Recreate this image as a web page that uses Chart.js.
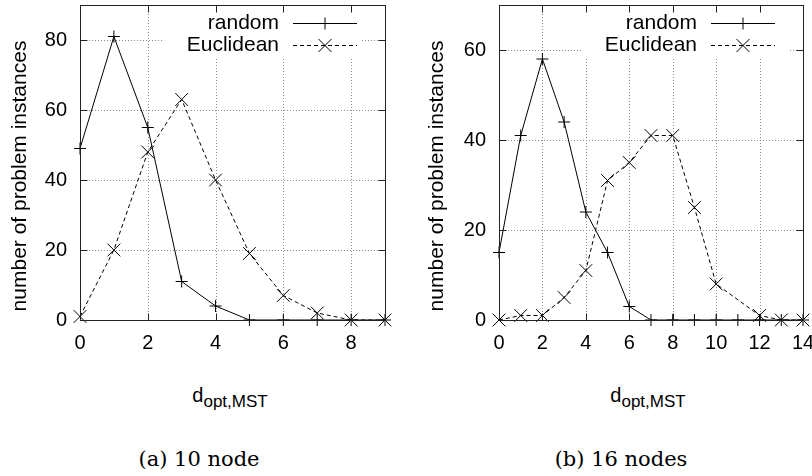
<!DOCTYPE html>
<html>
<head>
<meta charset="utf-8">
<script src="https://cdn.jsdelivr.net/npm/chart.js@4.4.0/dist/chart.umd.min.js"></script>
<style>
    body { margin: 0; background: #fff; width: 812px; height: 476px; overflow: hidden; position: relative;
           font-family: "Liberation Sans", Arial, sans-serif; color: #000; }
    .panel { position: absolute; top: 0; width: 406px; height: 360px; }
    .xtitle { position: absolute; width: 300px; text-align: center; font-size: 20px; line-height: 20px; top: 385px; }
    .xtitle sub { font-size: 17px; vertical-align: -5px; line-height: 0; }
    .caption { position: absolute; width: 300px; text-align: center; font-family: "DejaVu Serif", serif;
               font-size: 21px; line-height: 21px; top: 449px; }
</style>
</head>
<body>
<div class="panel" style="left:0"><canvas id="chart-a" width="406" height="360"></canvas></div>
<div class="panel" style="left:406px"><canvas id="chart-b" width="406" height="360"></canvas></div>
<div class="xtitle" style="left:80px">d<sub>opt,MST</sub></div>
<div class="xtitle" style="left:498px">d<sub>opt,MST</sub></div>
<div class="caption" style="left:49px">(a) 10 node</div>
<div class="caption" style="left:471px">(b) 16 nodes</div>
<script>
const seriesNames = ['random', 'Euclidean'];
const yTitle = 'number of problem instances';

// (a) 10 nodes
const xLeft = [0, 1, 2, 3, 4, 5, 6, 7, 8, 9];
const randomLeft = [49, 81, 55, 11, 4, 0, 0, 0, 0, 0];
const euclideanLeft = [1, 20, 48, 63, 40, 19, 7, 2, 0, 0];
const xTicksLeft = [0, 2, 4, 6, 8];
const yTicksLeft = [0, 20, 40, 60, 80];

// (b) 16 nodes
const xRight = [0, 1, 2, 3, 4, 5, 6, 7, 8, 9, 10, 11, 12, 13, 14];
const randomRight = [15, 41, 58, 44, 24, 15, 3, 0, 0, 0, 0, 0, 0, 0, 0];
const euclideanRight = [0, 1, 1, 5, 11, 31, 35, 41, 41, 25, 8, null, 1, 0, 0];
const xTicksRight = [0, 2, 4, 6, 8, 10, 12, 14];
const yTicksRight = [0, 20, 40, 60];

const tickFont = { family: '"Liberation Sans", Arial, sans-serif', size: 20 };

function toPoints(xs, ys) {
    return xs.map((x, i) => ({ x: x, y: ys[i] }));
}

const gnuplotFrame = {
    id: 'gnuplotFrame',
    beforeDatasetsDraw(chart, args, opts) {
        const ctx = chart.ctx;
        const a = chart.chartArea;
        const xs = chart.scales.x, ys = chart.scales.y;
        ctx.save();
        ctx.strokeStyle = '#8a8a8a';
        ctx.lineWidth = 1;
        ctx.setLineDash([1, 2]);
        ctx.beginPath();
        opts.xTicks.forEach(v => {
            const px = Math.round(xs.getPixelForValue(v)) + 0.5;
            ctx.moveTo(px, a.top); ctx.lineTo(px, a.bottom);
        });
        opts.yTicks.forEach(v => {
            const py = Math.round(ys.getPixelForValue(v)) + 0.5;
            ctx.moveTo(a.left, py); ctx.lineTo(a.right, py);
        });
        ctx.stroke();
        // key area keeps the grid out
        ctx.font = '21px "Liberation Sans", Arial, sans-serif';
        const textRight = a.right - 106;
        const w = Math.max(...seriesNames.map(s => ctx.measureText(s).width));
        ctx.fillStyle = '#fff';
        ctx.fillRect(textRight - w - 23, a.top + 1, w + 23 + 106 - opts.boxRight, 51);
        ctx.restore();
    },
    afterDatasetsDraw(chart, args, opts) {
        const ctx = chart.ctx;
        const a = chart.chartArea;
        const xs = chart.scales.x, ys = chart.scales.y;
        ctx.save();
        ctx.strokeStyle = '#222';
        ctx.lineWidth = 1;
        ctx.setLineDash([]);
        const l = Math.round(a.left) + 0.5, r = Math.round(a.right) + 0.5;
        const t = Math.round(a.top) + 0.5, b = Math.round(a.bottom) + 0.5;
        ctx.strokeRect(l, t, r - l, b - t);
        ctx.beginPath();
        opts.xTicks.forEach(v => {
            const px = Math.round(xs.getPixelForValue(v)) + 0.5;
            ctx.moveTo(px, b); ctx.lineTo(px, b - 7);
            ctx.moveTo(px, t); ctx.lineTo(px, t + 7);
        });
        opts.yTicks.forEach(v => {
            const py = Math.round(ys.getPixelForValue(v)) + 0.5;
            ctx.moveTo(l, py); ctx.lineTo(l + 7, py);
            ctx.moveTo(r, py); ctx.lineTo(r - 7, py);
        });
        ctx.stroke();

        // key
        ctx.fillStyle = '#000';
        ctx.font = '21px "Liberation Sans", Arial, sans-serif';
        ctx.textAlign = 'right';
        ctx.textBaseline = 'middle';
        const rows = [a.top + 18, a.top + 40];
        chart.data.datasets.forEach((ds, i) => {
            const y = rows[i] + 0.5;
            ctx.fillText(ds.label, a.right - 106, rows[i]);
            const x0 = a.right - 92, x1 = a.right - 28, xm = (x0 + x1) / 2;
            ctx.strokeStyle = '#000';
            ctx.setLineDash(ds.borderDash || []);
            ctx.beginPath();
            ctx.moveTo(x0, y); ctx.lineTo(x1, y);
            ctx.stroke();
            ctx.setLineDash([]);
            ctx.beginPath();
            if (ds.pointStyle === 'cross') {
                ctx.moveTo(xm - 6, y); ctx.lineTo(xm + 6, y);
                ctx.moveTo(xm, y - 6); ctx.lineTo(xm, y + 6);
            } else {
                ctx.moveTo(xm - 6.5, y - 6.5); ctx.lineTo(xm + 6.5, y + 6.5);
                ctx.moveTo(xm - 6.5, y + 6.5); ctx.lineTo(xm + 6.5, y - 6.5);
            }
            ctx.stroke();
        });

        // y axis title
        ctx.font = '21px "Liberation Sans", Arial, sans-serif';
        ctx.textAlign = 'center';
        ctx.textBaseline = 'middle';
        ctx.translate(opts.titleX, 176);
        ctx.rotate(-Math.PI / 2);
        ctx.fillText(yTitle, 0, 0);
        ctx.restore();
    }
};

function makeChart(id, xs, randomVals, euclidVals, xTicks, yTicks, xMax, yMax, axisWidth, padRight, titleX, boxRight) {
    const setTicks = list => scale => { scale.ticks = list.map(v => ({ value: v })); };
    new Chart(document.getElementById(id), {
        type: 'scatter',
        data: {
            datasets: [{
                label: seriesNames[0],
                data: toPoints(xs, randomVals),
                showLine: true,
                borderColor: '#000',
                borderWidth: 1,
                pointStyle: 'cross',
                pointRadius: 6,
                pointBorderColor: '#000',
                pointBorderWidth: 1,
                clip: false
            }, {
                label: seriesNames[1],
                data: toPoints(xs, euclidVals),
                showLine: true,
                spanGaps: true,
                borderColor: '#000',
                borderWidth: 1,
                borderDash: [4, 3],
                pointStyle: 'crossRot',
                pointRadius: 9,
                pointBorderColor: '#000',
                pointBorderWidth: 1,
                clip: false
            }]
        },
        options: {
            responsive: false,
            animation: false,
            events: [],
            layout: { autoPadding: false, padding: { top: 5, right: padRight, left: 0, bottom: 0 } },
            plugins: {
                legend: { display: false },
                tooltip: { enabled: false },
                gnuplotFrame: { xTicks: xTicks, yTicks: yTicks, titleX: titleX, boxRight: boxRight }
            },
            scales: {
                x: {
                    type: 'linear',
                    min: 0,
                    max: xMax,
                    grid: { display: false, drawTicks: false },
                    border: { display: false },
                    afterBuildTicks: setTicks(xTicks),
                    afterFit: s => { s.height = 40; s.paddingLeft = 0; s.paddingRight = 0; },
                    ticks: { color: '#000', font: tickFont, padding: 11, maxRotation: 0, autoSkip: false }
                },
                y: {
                    type: 'linear',
                    min: 0,
                    max: yMax,
                    grid: { display: false, drawTicks: false },
                    border: { display: false },
                    afterBuildTicks: setTicks(yTicks),
                    afterFit: s => { s.width = axisWidth; s.paddingTop = 0; s.paddingBottom = 0; },
                    ticks: { color: '#000', font: tickFont, padding: 13 }
                }
            }
        },
        plugins: [gnuplotFrame]
    });
}

makeChart('chart-a', xLeft, randomLeft, euclideanLeft, xTicksLeft, yTicksLeft, 9, 90, 80, 21, 20, 23);
makeChart('chart-b', xRight, randomRight, euclideanRight, xTicksRight, yTicksRight, 14, 70, 93, 9, 31, 14);
</script>
</body>
</html>
